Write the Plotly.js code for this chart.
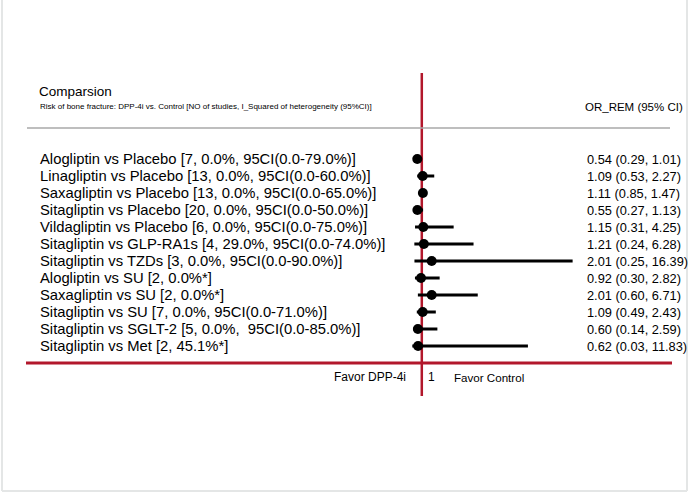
<!DOCTYPE html>
<html>
<head>
<meta charset="utf-8">
<script src="https://cdn.plot.ly/plotly-3.0.1.min.js"></script>
<style>html,body{margin:0;padding:0;background:#fff;}#chart{width:689px;height:493px;}</style>
</head>
<body>
<div id="chart"></div>
<script>
const labels = [
  "Alogliptin vs Placebo [7, 0.0%, 95CI(0.0-79.0%)]",
  "Linagliptin vs Placebo [13, 0.0%, 95CI(0.0-60.0%)]",
  "Saxagliptin vs Placebo [13, 0.0%, 95CI(0.0-65.0%)]",
  "Sitagliptin vs Placebo [20, 0.0%, 95CI(0.0-50.0%)]",
  "Vildagliptin vs Placebo [6, 0.0%, 95CI(0.0-75.0%)]",
  "Sitagliptin vs GLP-RA1s [4, 29.0%, 95CI(0.0-74.0%)]",
  "Sitagliptin vs TZDs [3, 0.0%, 95CI(0.0-90.0%)]",
  "Alogliptin vs SU [2, 0.0%*]",
  "Saxagliptin vs SU [2, 0.0%*]",
  "Sitagliptin vs SU [7, 0.0%, 95CI(0.0-71.0%)]",
  "Sitagliptin vs SGLT-2 [5, 0.0%,  95CI(0.0-85.0%)]",
  "Sitagliptin vs Met [2, 45.1%*]"
];
const orVals = [0.54, 1.09, 1.11, 0.55, 1.15, 1.21, 2.01, 0.92, 2.01, 1.09, 0.60, 0.62];
const loVals = [0.29, 0.53, 0.85, 0.27, 0.31, 0.24, 0.25, 0.30, 0.60, 0.49, 0.14, 0.03];
const hiVals = [1.01, 2.27, 1.47, 1.13, 4.25, 6.28, 16.39, 2.82, 6.71, 2.43, 2.59, 11.83];

const W = 689, H = 493;
const rows = labels.map((_, i) => i);
const py = p => 1 - p / H;   // pixel -> paper y
const px = p => p / W;       // pixel -> paper x

// scale: x=0 at pixel 412, 9.8 px per unit
const x0 = 412, ppu = 9.8;
const xr = [-x0 / ppu, (W - x0) / ppu];
// rows: row 0 at pixel 159, 17 px apart
const r0 = 159, rp = 17;
const yr = [(H - r0) / rp, -r0 / rp];

const font = "Arial, 'Liberation Sans', sans-serif";

const trace = {
  type: "scatter", mode: "markers",
  x: orVals, y: rows,
  marker: {symbol: "circle", size: 10, color: "#000"},
  error_x: {
    type: "data", symmetric: false,
    array: hiVals.map((h, i) => h - orVals[i]),
    arrayminus: loVals.map((l, i) => orVals[i] - l),
    color: "#000", thickness: 3, width: 0
  },
  hoverinfo: "none", cliponaxis: false
};

const annotations = [];
labels.forEach((t, i) => {
  annotations.push({xref: "paper", yref: "y", x: px(38), y: i, text: t, showarrow: false,
    xanchor: "left", yanchor: "middle", font: {family: font, size: 14.8, color: "#000"}});
  annotations.push({xref: "paper", yref: "y", x: px(585), y: i,
    text: `${orVals[i].toFixed(2)} (${loVals[i].toFixed(2)}, ${hiVals[i].toFixed(2)})`,
    showarrow: false, xanchor: "left", yanchor: "middle", font: {family: font, size: 12.8, color: "#000"}});
});
annotations.push(
  {xref: "paper", yref: "paper", x: px(37), y: py(92), text: "Comparsion", showarrow: false,
   xanchor: "left", yanchor: "middle", font: {family: font, size: 13.5, color: "#000"}},
  {xref: "paper", yref: "paper", x: px(38), y: py(107),
   text: "Risk of bone fracture: DPP-4i vs. Control [NO of studies, I_Squared of heterogeneity (95%CI)]",
   showarrow: false, xanchor: "left", yanchor: "middle", font: {family: font, size: 8, color: "#000"}},
  {xref: "paper", yref: "paper", x: px(685), y: py(107), text: "OR_REM (95% CI)", showarrow: false,
   xanchor: "right", yanchor: "middle", font: {family: font, size: 11.5, color: "#000"}},
  {xref: "paper", yref: "paper", x: px(408), y: py(377), text: "Favor DPP-4i", showarrow: false,
   xanchor: "right", yanchor: "middle", font: {family: font, size: 12, color: "#000"}},
  {xref: "paper", yref: "paper", x: px(431), y: py(377), text: "1", showarrow: false,
   xanchor: "center", yanchor: "middle", font: {family: font, size: 12, color: "#000"}},
  {xref: "paper", yref: "paper", x: px(452), y: py(377), text: "Favor Control", showarrow: false,
   xanchor: "left", yanchor: "middle", font: {family: font, size: 11.6, color: "#000"}}
);

const red = "#b2172b";
const shapes = [
  // frame
  {type: "line", xref: "paper", yref: "paper", x0: px(2), x1: px(2), y0: py(0), y1: py(491), line: {color: "#e4e6e6", width: 2}},
  {type: "line", xref: "paper", yref: "paper", x0: px(687), x1: px(687), y0: py(0), y1: py(491), line: {color: "#e4e6e6", width: 2}},
  {type: "line", xref: "paper", yref: "paper", x0: px(2), x1: px(687), y0: py(491), y1: py(491), line: {color: "#e4e6e6", width: 2}},
  // grey header rule
  {type: "line", xref: "paper", yref: "paper", x0: px(27), x1: px(670), y0: py(128), y1: py(128), line: {color: "#a9a9a9", width: 1.5}},
  // red bottom rule
  {type: "line", xref: "paper", yref: "paper", x0: px(26), x1: px(672), y0: py(363), y1: py(363), line: {color: red, width: 3}},
  // red reference line at 1
  {type: "line", xref: "x", yref: "paper", x0: 1, x1: 1, y0: py(73), y1: py(396), line: {color: red, width: 2.5}, layer: "below"}
];

const layout = {
  width: W, height: H,
  margin: {l: 0, r: 0, t: 0, b: 0},
  paper_bgcolor: "#fff", plot_bgcolor: "rgba(0,0,0,0)",
  showlegend: false,
  xaxis: {range: xr, domain: [0, 1], visible: false, fixedrange: true},
  yaxis: {range: yr, domain: [0, 1], visible: false, fixedrange: true},
  annotations, shapes
};

Plotly.newPlot("chart", [trace], layout, {displayModeBar: false, staticPlot: true});
</script>
</body>
</html>
